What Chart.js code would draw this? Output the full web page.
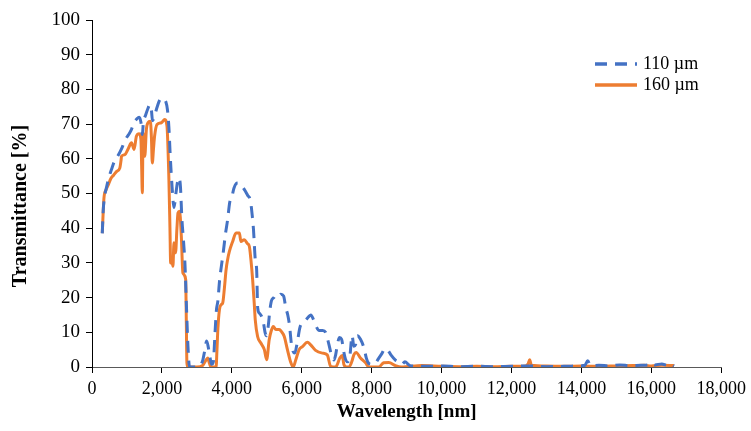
<!DOCTYPE html>
<html>
<head>
<meta charset="utf-8">
<script src="https://cdn.jsdelivr.net/npm/chart.js@4"></script>
<style>
  html, body { margin: 0; padding: 0; background: #fff; }
  #wrap { width: 751px; height: 431px; }
</style>
</head>
<body>
<div id="wrap"><canvas id="myChart" width="751" height="431"></canvas></div>
<script>
// 110 um sample
var wave110 = [294, 320, 360, 420, 480, 560, 650, 750, 850, 950, 1050, 1130, 1200, 1280, 1350, 1400, 1440, 1470, 1530, 1600,
  1650, 1700, 1730, 1780, 1850, 1940, 2000, 2060, 2110, 2160, 2200, 2240, 2290, 2345, 2400, 2450, 2490, 2530, 2570, 2620,
  2660, 2700, 2745, 2790, 2850, 3000, 3100, 3170, 3230, 3280, 3330, 3380, 3420, 3470, 3520, 3560, 3600, 3650, 3700, 3760,
  3820, 3880, 3940, 4000, 4060, 4120, 4180, 4240, 4300, 4380, 4450, 4530, 4580, 4620, 4670, 4710, 4740, 4790, 4840, 4900,
  4950, 4990, 5040, 5090, 5130, 5200, 5260, 5330, 5400, 5480, 5545, 5600, 5650, 5700, 5750, 5800, 5870, 5950, 6050, 6120,
  6200, 6260, 6330, 6400, 6500, 6600, 6680, 6740, 6800, 6860, 6920, 6970, 7020, 7080, 7140, 7200, 7260, 7320, 7380, 7440,
  7490, 7540, 7590, 7680, 7780, 7850, 7920, 8000, 8100, 8200, 8300, 8380, 8450, 8550, 8680, 8800, 8870, 8950, 9100, 9500,
  10000, 10500, 11000, 11500, 12000, 12500, 13000, 13500, 13900, 14100, 14180, 14260, 14500, 14800, 15100, 15400, 15700, 15900,
  15980, 16100, 16300, 16450, 16550, 16650];
var trans110 = [38.5, 45, 49, 52, 54.5, 57, 59.5, 61, 63, 65.5, 67, 68.5, 70.4, 71.5, 72, 70.5, 67, 70.5, 72.5, 74.5,
  75.6, 74, 71, 72, 74.5, 77, 77.5, 77, 76.5, 74, 69, 60.5, 52, 46, 50, 53.5, 54.5, 52, 43, 36,
  29.5, 18, 6, 0, 0, 0, 0.5, 2, 5, 7.5, 5.5, 2.5, 0.8, 1.5, 10, 16.5, 19, 25, 29, 33.5,
  38.5, 42.5, 47.5, 49, 51.5, 52.8, 53, 52.6, 52, 50.8, 49.5, 48, 44, 39.5, 31, 28, 17, 15.5, 14.8, 13,
  10, 9, 11.7, 16.5, 19, 20, 20.9, 20.5, 21, 20.5, 17, 15, 12, 7, 4.5, 4, 7, 11.5, 13, 13.6,
  14.5, 15, 13.8, 12, 10.5, 10.5, 10, 8, 5.5, 3, 2, 3.5, 6.5, 8.5, 8, 4.5, 2, 1.5, 3.5, 9,
  6, 6.5, 9, 8, 5.5, 2.5, 1, 0.8, 1, 2.5, 4, 5.3, 5, 3.5, 2, 1.3, 0.8, 1.5, 0.4, 0.2,
  0.3, 0.1, 0.2, 0.1, 0.2, 0.3, 0.1, 0.2, 0.3, 0.5, 1.8, 0.4, 0.5, 0.3, 0.6, 0.4, 0.5, 0.6,
  1.2, 0.6, 0.9, 0.5, 0.9, 0.3];

// 160 um sample
var wave160 = [294, 342, 400, 465, 540, 610, 700, 797, 830, 845, 940, 1040, 1130, 1205, 1270, 1350, 1400, 1420, 1440, 1460,
  1510, 1555, 1600, 1670, 1700, 1725, 1760, 1790, 1860, 1985, 2080, 2145, 2200, 2230, 2250, 2280, 2315, 2345, 2390, 2430,
  2460, 2505, 2555, 2600, 2680, 2695, 2715, 2740, 3000, 3170, 3250, 3310, 3360, 3410, 3550, 3575, 3600, 3645, 3700, 3740,
  3790, 3835, 3880, 3930, 4025, 4120, 4215, 4260, 4355, 4450, 4500, 4545, 4595, 4640, 4670, 4737, 4830, 4930, 4995, 5070,
  5130, 5185, 5260, 5355, 5420, 5500, 5590, 5690, 5755, 5830, 5925, 6020, 6160, 6255, 6395, 6590, 6730, 6825, 6970, 7090,
  7160, 7205, 7280, 7350, 7430, 7490, 7555, 7680, 7825, 7920, 8200, 8345, 8490, 8680, 8850, 9440, 10000, 10500, 11000, 11500,
  12000, 12400, 12480, 12520, 12570, 13000, 13500, 14000, 14500, 15000, 15500, 15800, 16000, 16300, 16650];
var trans160 = [38.6, 48.7, 51, 52.5, 54.3, 55.2, 56.3, 57.4, 59.5, 60.7, 61.2, 63, 64.6, 62.7, 66.5, 67.2, 65.5, 58, 50.2, 67.5,
  60.7, 68.4, 70.4, 70.8, 66, 58.8, 63, 66.5, 69.9, 70.4, 71.3, 69.4, 54, 40, 30, 31, 29, 35.8, 32.9, 40,
  44.4, 44.9, 37.7, 27.1, 25.2, 15.6, 1.2, 0, 0, 0.5, 1.8, 2.6, 1, 0, 0, 5, 10.8, 16.5, 18, 18.5,
  23, 28, 31, 33.3, 36.2, 38.6, 38.6, 36.2, 36.7, 35.5, 34.8, 31, 25.2, 18.5, 13.6, 8.8, 6.9, 5, 2.1, 7.9,
  10.5, 11.7, 10.8, 10.8, 10.2, 8.8, 5, 1.2, 0, 2.1, 5, 5.9, 7.1, 6.4, 4.8, 4, 3.5, 0.2, 0, 2.6,
  3.3, 0.7, 0, 0, 1.5, 3.5, 4.2, 2.6, 1.2, 0, 0, 1.2, 1.3, 0.4, 0, 0.4, 0.2, 0.1, 0.2, 0.1,
  0.2, 0.3, 1, 2.1, 0.5, 0.3, 0.2, 0.3, 0.2, 0.3, 0.4, 0.5, 0.3, 0.5, 0.4];

var xTicks = [0, 2000, 4000, 6000, 8000, 10000, 12000, 14000, 16000, 18000];
var yTicks = [0, 10, 20, 30, 40, 50, 60, 70, 80, 90, 100];

function toPoints(xs, ys) {
  var pts = [];
  for (var i = 0; i < xs.length; i++) {
    pts.push({ x: xs[i], y: ys[i] });
  }
  return pts;
}

var serif = '"Liberation Serif", "Times New Roman", serif';

// legend and y title drawn by hand
const extras = {
  id: 'extras',
  afterDraw(chart) {
    var ctx = chart.ctx;
    var rows = [64, 85];
    ctx.save();
    chart.data.datasets.forEach(function (ds, i) {
      var y = rows[i];
      ctx.strokeStyle = ds.borderColor;
      ctx.lineWidth = 3.5;
      ctx.lineCap = 'butt';
      ctx.setLineDash(ds.borderDash || []);
      ctx.beginPath();
      ctx.moveTo(595, y);
      ctx.lineTo(637, y);
      ctx.stroke();
      ctx.setLineDash([]);
      ctx.fillStyle = '#000';
      ctx.font = '18px ' + serif;
      ctx.textBaseline = 'middle';
      ctx.textAlign = 'left';
      ctx.fillText(ds.label, 643, y);
    });

    ctx.translate(21, 206);
    ctx.rotate(-Math.PI / 2);
    ctx.font = 'bold 20px ' + serif;
    ctx.textAlign = 'center';
    ctx.textBaseline = 'middle';
    ctx.fillStyle = '#000';
    ctx.fillText('Transmittance [%]', 0, 0);
    ctx.restore();
  }
};

var ctx = document.getElementById('myChart').getContext('2d');
var myChart = new Chart(ctx, {
  type: 'line',
  data: {
    datasets: [{
      label: '110 µm',
      data: toPoints(wave110, trans110),
      borderColor: '#4472C4',
      borderWidth: 3,
      borderDash: [12, 8],
      pointRadius: 0,
      fill: false,
      cubicInterpolationMode: 'monotone'
    }, {
      label: '160 µm',
      data: toPoints(wave160, trans160),
      borderColor: '#ED7D31',
      borderWidth: 3,
      pointRadius: 0,
      fill: false,
      cubicInterpolationMode: 'monotone'
    }]
  },
  options: {
    responsive: false,
    animation: false,
    layout: { padding: { left: 8, top: 20, right: 27, bottom: 4 } },
    plugins: {
      legend: { display: false },
      tooltip: { enabled: false }
    },
    scales: {
      x: {
        type: 'linear',
        min: 0,
        max: 18000,
        afterBuildTicks: function (scale) {
          scale.ticks = xTicks.map(function (v) { return { value: v }; });
        },
        afterFit: function (scale) { scale.height = 60; },
        grid: { drawOnChartArea: false, drawTicks: true, tickLength: 6, color: '#000' },
        border: { color: '#595959', width: 1 },
        ticks: {
          padding: 5,
          color: '#000',
          font: { family: serif, size: 18 },
          maxRotation: 0,
          callback: function (v) { return v.toLocaleString('en-US'); }
        },
        title: {
          display: true,
          text: 'Wavelength [nm]',
          color: '#000',
          font: { family: serif, size: 19, weight: 'bold' },
          padding: { top: 0 }
        }
      },
      y: {
        min: 0,
        max: 100,
        afterBuildTicks: function (scale) {
          scale.ticks = yTicks.map(function (v) { return { value: v }; });
        },
        afterFit: function (scale) { scale.width = 84; },
        grid: { drawOnChartArea: false, drawTicks: true, tickLength: 6, color: '#000' },
        border: { color: '#000', width: 1 },
        ticks: {
          padding: 6,
          color: '#000',
          font: { family: serif, size: 19 }
        }
      }
    }
  },
  plugins: [extras]
});
</script>
</body>
</html>
